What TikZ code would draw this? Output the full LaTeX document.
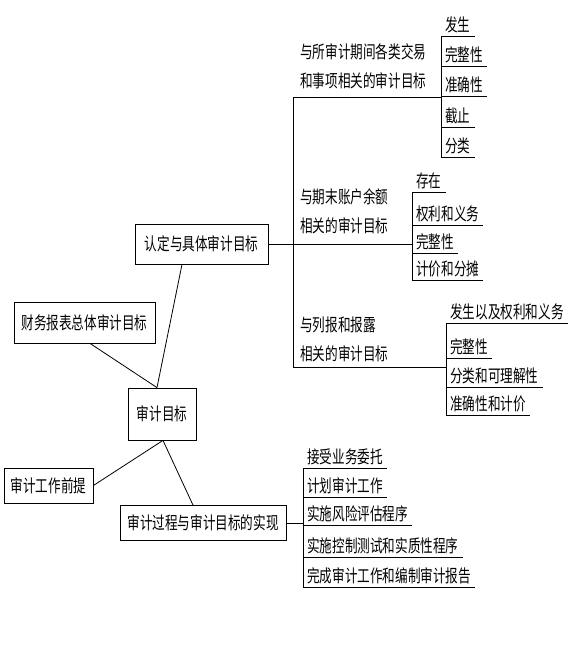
\documentclass[tikz,border=0pt]{standalone}
\usepackage{fontspec}
\newfontfamily\cjk{Noto Sans CJK SC}[FakeStretch=0.72]
\begin{document}
\begin{tikzpicture}[x=1pt,y=-1pt,
  txt/.style={font=\cjk\fontsize{17.5}{29}\selectfont},
  box/.style={txt, draw, line width=0.8pt, inner sep=0pt},
  item/.style={txt, anchor=south west, inner xsep=4pt, inner ysep=2.5pt},
  head/.style={txt, anchor=west, align=left, inner sep=0pt},
  ln/.style={line width=0.8pt}]
\useasboundingbox (0,0) rectangle (580,654);
% boxes
\node[box, minimum width=133pt, minimum height=40pt] (rd) at (201.5,244) {认定与具体审计目标};
\node[box, minimum width=141pt, minimum height=41pt] (cw) at (84.5,322.5) {财务报表总体审计目标};
\node[box, minimum width=68pt, minimum height=52pt] (mb) at (162,414) {审计目标};
\node[box, minimum width=89pt, minimum height=35pt] (qt) at (48.5,485.5) {审计工作前提};
\node[box, minimum width=166pt, minimum height=35pt] (gc) at (203,523) {审计过程与审计目标的实现};
% connectors
\draw[ln] ([xshift=-19.5pt]rd.south) -- ([xshift=-5pt]mb.north);
\draw[ln] ([xshift=5.5pt]cw.south) -- ([xshift=-5pt]mb.north);
\draw[ln] ([xshift=1pt]mb.south) -- (qt.east);
\draw[ln] ([xshift=1pt]mb.south) -- ([xshift=-10pt]gc.north);
% headings
\node[head] (h1) at (300,66) {与所审计期间各类交易\\和事项相关的审计目标};
\node[head] (h2) at (300,211) {与期末账户余额\\相关的审计目标};
\node[head] (h3) at (300,339) {与列报和报露\\相关的审计目标};
% group 1
\node[item] (g1a) at (441,36) {发生};
\node[item] (g1b) at (441,66) {完整性};
\node[item] (g1c) at (441,96) {准确性};
\node[item] (g1d) at (441,127) {截止};
\node[item] (g1e) at (441,157) {分类};
% group 2
\node[item] (g2a) at (412,192) {存在};
\node[item] (g2b) at (412,225) {权利和义务};
\node[item] (g2c) at (412,253) {完整性};
\node[item] (g2d) at (412,280) {计价和分摊};
% group 3
\node[item] (g3a) at (446,323) {发生以及权利和义务};
\node[item] (g3b) at (446,358) {完整性};
\node[item] (g3c) at (446,387) {分类和可理解性};
\node[item] (g3d) at (446,415) {准确性和计价};
% group 4
\node[item] (g4a) at (303,468) {接受业务委托};
\node[item] (g4b) at (303,497) {计划审计工作};
\node[item] (g4c) at (303,525) {实施风险评估程序};
\node[item] (g4d) at (303,557) {实施控制测试和实质性程序};
\node[item] (g4e) at (303,587) {完成审计工作和编制审计报告};
% underlines
\foreach \n in {g1a,g1b,g1c,g1d,g1e,g2a,g2b,g2c,g2d,g3a,g3b,g3c,g3d,g4a,g4b,g4c,g4d,g4e}
  \draw[ln] (\n.south west) -- (\n.south east);
% brackets
\draw[ln] (g1a.south west) -- (g1e.south west);
\draw[ln] (g2a.south west) -- (g2d.south west);
\draw[ln] (g3a.south west) -- (g3d.south west);
\draw[ln] (g4a.south west) -- (g4e.south west);
% trunk
\coordinate (t1) at (293,97);
\coordinate (t3) at (293,367);
\draw[ln] (t1) -- (t3);
\draw[ln] (t1) -- (t1 -| g1c.south west);
\draw[ln] (t3) -- (t3 -| g3a.south west);
\draw[ln] (rd.east) -- (rd.east -| g2a.south west);
\draw[ln] (gc.east) -- (gc.east -| g4a.south west);
\end{tikzpicture}
\end{document}
